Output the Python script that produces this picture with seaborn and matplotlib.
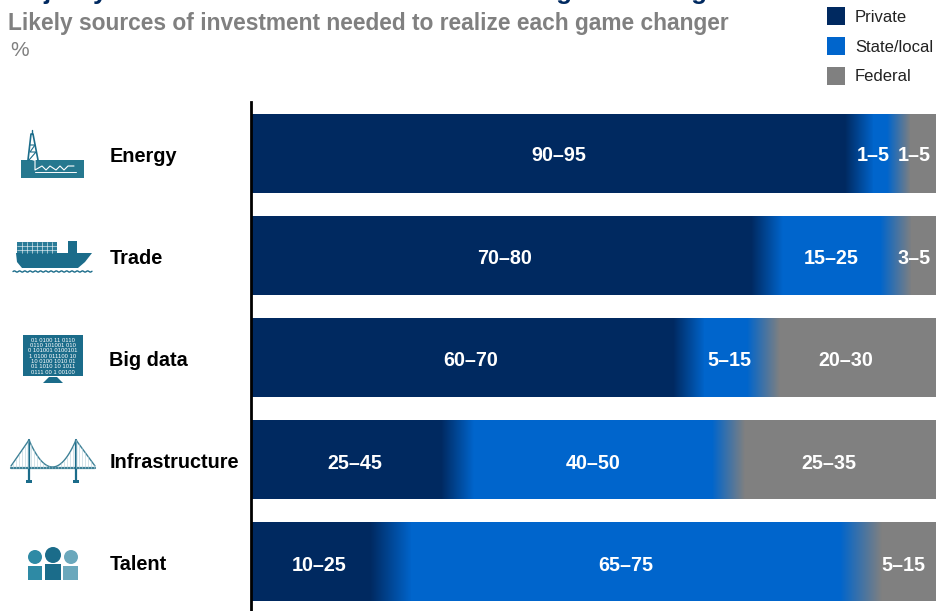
# ------------------------------------------------------------
# Investment sources per game changer (stacked bars with soft edges)
# ------------------------------------------------------------
import numpy as np
import matplotlib
matplotlib.use("Agg")
import matplotlib.pyplot as plt
from matplotlib.colors import LinearSegmentedColormap
from matplotlib.patches import Circle, Polygon, Rectangle
from matplotlib.transforms import ScaledTranslation
import seaborn as sns

# ------------------------------------------------------------
# Data (all in % of bar length)
# ------------------------------------------------------------
categories = ["Energy", "Trade", "Big data", "Infrastructure", "Talent"]

# where the private colour starts fading, and where state/local is reached
private_fade_start = [86.7, 73.0, 61.6, 27.8, 17.3]
private_fade_end = [90.8, 77.6, 66.2, 32.6, 23.4]
# where state/local starts fading, and where federal is reached
federal_fade_start = [92.8, 91.8, 72.4, 67.3, 86.0]
federal_fade_end = [96.2, 96.4, 77.2, 72.1, 92.1]

private_labels = ["90–95", "70–80", "60–70", "25–45", "10–25"]
state_labels = ["1–5", "15–25", "5–15", "40–50", "65–75"]
federal_labels = ["1–5", "3–5", "20–30", "25–35", "5–15"]

private_label_pos = [45.0, 37.0, 32.0, 15.1, 9.9]
state_label_pos = [90.8, 84.7, 69.8, 49.9, 54.7]
federal_label_pos = [96.8, 96.8, 86.8, 84.4, 95.2]

NAVY = "#002960"
BLUE = "#0065CC"
GRAY = "#808080"
TEAL = "#1B6C8A"
BAR_WIDTH = 79 / 102
W, H = 936, 611

sns.set_theme(style="white")
plt.rcParams["font.family"] = ["Liberation Sans", "DejaVu Sans"]

fig = plt.figure(figsize=(W / 100, H / 100), dpi=100)
ax = fig.add_axes([251 / W, 0, 685 / W, (H - 102) / H])

# ------------------------------------------------------------
# Solid parts of the bars
# ------------------------------------------------------------
private_start = np.array(private_fade_start)
private_end = np.array(private_fade_end)
federal_start = np.array(federal_fade_start)
federal_end = np.array(federal_fade_end)

sns.barplot(x=private_start, y=categories, color=NAVY, saturation=1, linewidth=0,
            width=BAR_WIDTH, orient="h", ax=ax, label="Private")
sns.barplot(x=federal_start - private_end, y=categories, left=private_end, linewidth=0,
            color=BLUE, saturation=1, width=BAR_WIDTH, orient="h", ax=ax,
            label="State/local")
sns.barplot(x=100 - federal_end, y=categories, left=federal_end, linewidth=0,
            color=GRAY, saturation=1, width=BAR_WIDTH, orient="h", ax=ax,
            label="Federal")
handles, labels = ax.get_legend_handles_labels()
ax.get_legend().remove()

ax.set_xlim(0, 100)
ax.set_ylim(4.485, -0.505)

# ------------------------------------------------------------
# Soft transitions between the colours
# ------------------------------------------------------------
ramp = np.linspace(0, 1, 256)[None, :]
navy_blue = LinearSegmentedColormap.from_list("navy_blue", [NAVY, BLUE])
blue_gray = LinearSegmentedColormap.from_list("blue_gray", [BLUE, GRAY])


def fade(start, end, row, cmap):
    # image snaps to whole pixels, so clip it to the bar height
    top, bottom = row - BAR_WIDTH / 2, row + BAR_WIDTH / 2
    im = ax.imshow(ramp, cmap=cmap, aspect="auto", interpolation="bilinear",
                   extent=(start, end, bottom, top))
    im.set_clip_path(Rectangle((start, top), end - start, BAR_WIDTH, transform=ax.transData))


for i in range(len(categories)):
    fade(private_start[i], private_end[i], i, navy_blue)
    fade(federal_start[i], federal_end[i], i, blue_gray)

    for pos, text in [(private_label_pos[i], private_labels[i]),
                      (state_label_pos[i], state_labels[i]),
                      (federal_label_pos[i], federal_labels[i])]:
        ax.text(pos, i + 0.022 + 0.005 * i, text, color="white", fontsize=14.2,
                fontweight="bold", ha="center", va="center")

ax.set_xlim(0, 100)
ax.set_ylim(4.485, -0.505)
ax.set_xticks([])
ax.set_xlabel("")
ax.set_ylabel("")
ax.tick_params(axis="y", length=0, pad=102)
nudge = ScaledTranslation(0, -1 / 100, fig.dpi_scale_trans)
for tick in ax.get_yticklabels():
    tick.set_ha("left")
    tick.set_fontsize(14.3)
    tick.set_fontweight("bold")
    tick.set_color("black")
    tick.set_transform(tick.get_transform() + nudge)

for side in ["top", "right", "bottom"]:
    ax.spines[side].set_visible(False)
ax.spines["left"].set_color("black")
ax.spines["left"].set_linewidth(2.0)
ax.spines["left"].set_zorder(5)

# ------------------------------------------------------------
# Title, legend
# ------------------------------------------------------------
# the title sits above the top edge in the reference, only descenders show
fig.text(8 / W, 1 + 1.5 / H, "Majority of investment needed to deliver the game changers",
         color=NAVY, fontsize=18.6, fontweight="bold", ha="left", va="baseline")
fig.text(8 / W, 1 - 30 / H, "Likely sources of investment needed to realize each game changer",
         color=GRAY, fontsize=16.37, fontweight="bold", ha="left", va="baseline")
fig.text(10 / W, 1 - 56 / H, "%", color=GRAY, fontsize=15, ha="left", va="baseline")

fig.legend(handles, labels, loc="upper left", bbox_to_anchor=(827 / W, 1 - 7 / H),
           frameon=False, fontsize=12.0, handlelength=1.08, handleheight=1.33,
           handletextpad=0.6, labelspacing=0.68, borderpad=0, borderaxespad=0,
           labelcolor="#222222")

# ------------------------------------------------------------
# Icons (overlay in pixel coordinates)
# ------------------------------------------------------------
ic = fig.add_axes([0, 0, 1, 1], zorder=-1)
ic.set_xlim(0, W)
ic.set_ylim(H, 0)
ic.axis("off")

# Energy: rig on the sea bed with white pipes
ic.add_patch(Rectangle((21, 160), 63, 18, color="#26788F", lw=0))
ic.plot([28, 31, 33, 38], [160, 134, 134, 160], color=TEAL, lw=1.2)
ic.plot([30, 35, 30, 36, 29], [145, 145, 152, 152, 160], color=TEAL, lw=0.8)
ic.plot([32, 32], [130, 134], color=TEAL, lw=1)
ic.plot([33, 35, 35, 42, 46, 50, 56, 60, 64, 68, 74],
        [160, 160, 170, 166, 170, 166, 170, 166, 170, 166, 166], color="white", lw=0.8)
ic.plot([35, 76], [172, 172], color="white", lw=0.7)

# Trade: container ship
ic.add_patch(Polygon([(16, 253), (92, 253), (85, 262), (78, 268), (22, 268), (17, 262)],
                     color=TEAL, lw=0))
ic.add_patch(Rectangle((17, 242), 40, 11, color="#2B7C98", lw=0))
ic.add_patch(Rectangle((68, 241), 9, 12, color=TEAL, lw=0))
for x in np.arange(22, 57, 5):
    ic.plot([x, x], [242, 253], color="white", lw=0.4)
for y in [246, 250]:
    ic.plot([17, 57], [y, y], color="white", lw=0.4)
wave_x = np.linspace(13, 92, 120)
ic.plot(wave_x, 271.5 + 0.6 * np.sin(wave_x * 1.2), color=TEAL, lw=1)

# Big data: monitor with binary digits
ic.add_patch(Rectangle((23, 335), 60, 41, color=TEAL, lw=0))
ic.add_patch(Polygon([(49, 377), (57, 377), (63, 383), (43, 383)], color=TEAL, lw=0))
digits = ["01 0100 11 0110", "0110 101001 010", "0 101001 0100101",
          "1 0100 011100 10", "10 0100 1010 01", "01 1010 10 1011", "0111 00 1 00100"]
for k, row in enumerate(digits):
    ic.text(53, 340 + k * 5.4, row, color="white", fontsize=4.2, ha="center", va="center")

# Infrastructure: suspension bridge
ic.plot([11, 95], [468, 468], color="#3E8197", lw=1.6)
for x in [29, 76]:
    ic.plot([x, x], [440, 481], color=TEAL, lw=1.6)
    ic.add_patch(Rectangle((x - 3, 480), 6, 2.5, color=TEAL, lw=0))
span_x = np.linspace(29, 76, 60)
span_y = 467 - 27 * ((span_x - 52.5) / 23.5) ** 2
ic.plot(span_x, span_y, color="#3E8197", lw=1)
ic.plot([11, 29], [466, 440], color="#3E8197", lw=1)
ic.plot([76, 95], [440, 466], color="#3E8197", lw=1)
for x in np.arange(13, 95, 3):
    if 29 < x < 76:
        top = 467 - 27 * ((x - 52.5) / 23.5) ** 2
    elif x <= 29:
        top = 466 - (x - 11) * 26 / 18
    else:
        top = 440 + (x - 76) * 26 / 19
    ic.plot([x, x], [top, 468], color="#B5D0DA", lw=0.4)

# Talent: three figures
for cx, cy, r, bx, by, bw, col in [(35, 557, 7, 28, 566, 14, "#2E8AA5"),
                                   (53, 555, 8, 45, 564, 16, TEAL),
                                   (71, 557, 7, 63, 566, 15, "#6BA8BC")]:
    ic.add_patch(Circle((cx, cy), r, color=col, lw=0))
    ic.add_patch(Rectangle((bx, by), bw, 580 - by, color=col, lw=0))

fig.savefig("out.png", dpi=100)
